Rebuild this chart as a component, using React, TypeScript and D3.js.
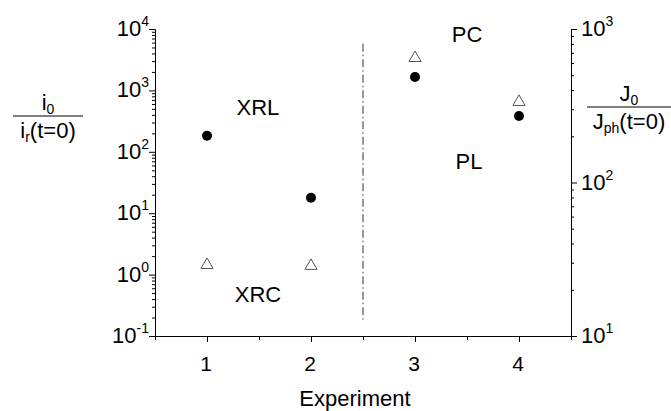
import React, { useEffect, useRef } from "react";
import * as d3 from "d3";

// Experiment numbers on the x axis
const xMajorTicks = [1, 2, 3, 4];
const xMinorTicks = [0.5, 1.5, 2.5, 3.5, 4.5];

// X-ray experiments (left axis, i0 / ir(t=0))
const xrayExperiments = [1, 2];
const xrlValues = [183, 17.8]; // filled circles
const xrcValues = [1.49, 1.44]; // open triangles

// Photo experiments (right axis, J0 / Jph(t=0))
const photoExperiments = [3, 4];
const plValues = [487, 271]; // filled circles
const pcValues = [657, 340]; // open triangles

// Axis decades
const leftDecades = [-1, 0, 1, 2, 3, 4];
const rightDecades = [1, 2, 3];

// Dash-dot divider between the two groups (left scale extent)
const dividerX = 2.5;
const dividerExtent = [5750, 0.166];

// Annotations: [text, x, value, axis]
const annotations: [string, number, number, "left" | "right"][] = [
  ["XRL", 1.49, 525, "left"],
  ["XRC", 1.49, 0.47, "left"],
  ["PC", 3.5, 930, "right"],
  ["PL", 3.52, 138, "right"],
];

const FONT = "Arial, 'Liberation Sans', Helvetica, sans-serif";

function minorsOf(decades: number[]) {
  const out: number[] = [];
  for (let i = 0; i < decades.length - 1; i++) {
    for (let m = 2; m <= 9; m++) out.push(m * Math.pow(10, decades[i]));
  }
  return out;
}

function drawChart(container: SVGSVGElement) {
  const width = 671;
  const height = 411;
  const margin = { top: 29, right: 100, bottom: 75, left: 155 };

  const svg = d3.select(container);
  svg.selectAll("*").remove();

  const x = d3
    .scaleLinear()
    .domain([0.5, 4.5])
    .range([margin.left, width - margin.right]);
  const yLeft = d3
    .scaleLog()
    .domain([0.1, 10000])
    .range([height - margin.bottom, margin.top]);
  const yRight = d3
    .scaleLog()
    .domain([10, 1000])
    .range([height - margin.bottom, margin.top]);

  const bottom = height - margin.bottom;
  const right = width - margin.right;

  // Divider
  svg
    .append("line")
    .attr("x1", x(dividerX))
    .attr("x2", x(dividerX))
    .attr("y1", yLeft(dividerExtent[0]))
    .attr("y2", yLeft(dividerExtent[1]))
    .attr("stroke", "#333")
    .attr("stroke-width", 1)
    .attr("stroke-dasharray", "8,3,1.5,3");

  // X axis
  const xAxisG = svg.append("g").attr("transform", `translate(0,${bottom})`);
  xAxisG
    .append("g")
    .call(d3.axisBottom(x).tickValues(xMajorTicks).tickSize(6).tickSizeOuter(0).tickFormat(() => ""));
  xAxisG
    .append("g")
    .call(d3.axisBottom(x).tickValues(xMinorTicks).tickSize(4).tickSizeOuter(0).tickFormat(() => ""));
  xAxisG.selectAll(".domain").attr("stroke", "#000");

  xAxisG
    .selectAll("text.xlab")
    .data(xMajorTicks)
    .enter()
    .append("text")
    .attr("class", "xlab")
    .attr("x", (d) => x(d) - 1)
    .attr("y", 35)
    .attr("text-anchor", "middle")
    .style("font-family", FONT)
    .style("font-size", "21px")
    .text((d) => d);

  svg
    .append("text")
    .attr("x", 355)
    .attr("y", height - 5)
    .attr("text-anchor", "middle")
    .style("font-family", FONT)
    .style("font-size", "22px")
    .text("Experiment");

  // Left axis
  const leftG = svg.append("g").attr("transform", `translate(${margin.left},0)`);
  leftG
    .append("g")
    .call(
      d3
        .axisLeft(yLeft)
        .tickValues(leftDecades.map((d) => Math.pow(10, d)))
        .tickSize(6)
        .tickSizeOuter(0)
        .tickFormat(() => "")
    );
  leftG
    .append("g")
    .call(d3.axisLeft(yLeft).tickValues(minorsOf(leftDecades)).tickSize(3).tickSizeOuter(0).tickFormat(() => ""));

  leftDecades.forEach((d) => {
    const t = leftG
      .append("text")
      .attr("x", -6)
      .attr("y", yLeft(Math.pow(10, d)) + 7)
      .attr("text-anchor", "end")
      .style("font-family", FONT)
      .style("font-size", "22px");
    t.append("tspan").text("10");
    t.append("tspan").attr("dy", -10).style("font-size", "14px").text(String(d));
  });

  // Right axis
  const rightG = svg.append("g").attr("transform", `translate(${right},0)`);
  rightG
    .append("g")
    .call(
      d3
        .axisRight(yRight)
        .tickValues(rightDecades.map((d) => Math.pow(10, d)))
        .tickSize(6)
        .tickSizeOuter(0)
        .tickFormat(() => "")
    );
  rightG
    .append("g")
    .call(d3.axisRight(yRight).tickValues(minorsOf(rightDecades)).tickSize(3).tickSizeOuter(0).tickFormat(() => ""));

  rightDecades.forEach((d) => {
    const t = rightG
      .append("text")
      .attr("x", 10)
      .attr("y", yRight(Math.pow(10, d)) + 7)
      .style("font-family", FONT)
      .style("font-size", "22px");
    t.append("tspan").text("10");
    t.append("tspan").attr("dy", -10).style("font-size", "14px").text(String(d));
  });

  svg.selectAll(".tick line").attr("stroke", "#000");

  // Axis titles (fractions)
  const leftTitle = svg.append("g").attr("transform", "translate(48,116)");
  leftTitle.append("line").attr("x1", -35).attr("x2", 35).attr("stroke", "#000").attr("stroke-width", 1.2);
  const ln = leftTitle
    .append("text")
    .attr("y", -6)
    .attr("text-anchor", "middle")
    .style("font-family", FONT)
    .style("font-size", "22px");
  ln.append("tspan").text("i");
  ln.append("tspan").attr("dy", 4).style("font-size", "14px").text("0");
  const ld = leftTitle
    .append("text")
    .attr("y", 22)
    .attr("text-anchor", "middle")
    .style("font-family", FONT)
    .style("font-size", "22px");
  ld.append("tspan").text("i");
  ld.append("tspan").attr("dy", 4).style("font-size", "14px").text("r");
  ld.append("tspan").attr("dy", -4).text("(t=0)");

  const rightTitle = svg.append("g").attr("transform", "translate(629,107)");
  rightTitle.append("line").attr("x1", -42).attr("x2", 42).attr("stroke", "#000").attr("stroke-width", 1.2);
  const rn = rightTitle
    .append("text")
    .attr("y", -6)
    .attr("text-anchor", "middle")
    .style("font-family", FONT)
    .style("font-size", "22px");
  rn.append("tspan").text("J");
  rn.append("tspan").attr("dy", 4).style("font-size", "14px").text("0");
  const rd = rightTitle
    .append("text")
    .attr("y", 22)
    .attr("text-anchor", "middle")
    .style("font-family", FONT)
    .style("font-size", "22px");
  rd.append("tspan").text("J");
  rd.append("tspan").attr("dy", 4).style("font-size", "14px").text("ph");
  rd.append("tspan").attr("dy", -4).text("(t=0)");

  // Annotations
  annotations.forEach(([label, ax, val, axis]) => {
    const yy = axis === "left" ? yLeft(val) : yRight(val);
    svg
      .append("text")
      .attr("x", x(ax))
      .attr("y", yy)
      .attr("dy", "0.35em")
      .attr("text-anchor", "middle")
      .style("font-family", FONT)
      .style("font-size", "22px")
      .text(label);
  });

  // Markers
  const tri = d3.symbol().type(d3.symbolTriangle).size(64);
  const points = [
    ...xrayExperiments.map((e, i) => ({ e, v: xrlValues[i], y: yLeft, kind: "circle" })),
    ...xrayExperiments.map((e, i) => ({ e, v: xrcValues[i], y: yLeft, kind: "tri" })),
    ...photoExperiments.map((e, i) => ({ e, v: plValues[i], y: yRight, kind: "circle" })),
    ...photoExperiments.map((e, i) => ({ e, v: pcValues[i], y: yRight, kind: "tri" })),
  ];
  points.forEach((p) => {
    if (p.kind === "circle") {
      svg
        .append("circle")
        .attr("cx", x(p.e))
        .attr("cy", p.y(p.v))
        .attr("r", 5)
        .attr("fill", "#000");
    } else {
      svg
        .append("path")
        .attr("d", tri)
        .attr("transform", `translate(${x(p.e)},${p.y(p.v) + 1})`)
        .attr("fill", "#fff")
        .attr("stroke", "#555")
        .attr("stroke-width", 1);
    }
  });
}

const App = () => {
  const ref = useRef<SVGSVGElement>(null);
  useEffect(() => {
    if (ref.current) drawChart(ref.current);
  }, []);
  return (
    <svg
      ref={ref}
      width={671}
      height={411}
      style={{ position: "absolute", left: 0, top: 0, background: "#fff" }}
    />
  );
};

export default App;
